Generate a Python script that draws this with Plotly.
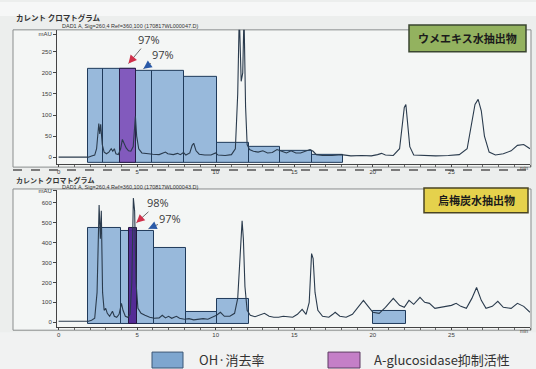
import plotly.graph_objects as go

W, H = 536, 369

# ---------------- data ----------------
# top panel: ウメエキス水抽出物 chromatogram (min, mAU)
top_t = [0, 1.9, 2.1, 2.3, 2.42, 2.5, 2.56, 2.62, 2.68, 2.78, 2.9, 3.05, 3.2, 3.35, 3.45, 3.55, 3.65,
         3.8, 3.95, 4.06, 4.15, 4.3, 4.45, 4.6, 4.75, 4.83, 4.89, 4.97, 5.1, 5.3, 5.6, 6.0, 6.4, 6.65,
         6.8, 6.95, 7.3, 7.57, 7.75, 7.95, 8.1, 8.35, 8.5, 8.6, 8.75, 8.95, 9.3, 9.7, 9.99, 10.15, 10.6,
         11.0, 11.25, 11.4, 11.5, 11.62, 11.72, 11.8, 11.9, 12.0, 12.15, 12.4, 12.7, 13.0, 13.3, 13.6,
         13.9, 14.2, 14.5, 14.8, 15.1, 15.4, 15.7, 16.0, 16.2, 16.4, 16.8, 17.4, 18.0, 18.6, 19.3, 19.9,
         20.3, 20.55, 20.8, 21.3, 21.7, 21.9, 22.0, 22.1, 22.2, 22.35, 22.6, 23.2, 24.0, 24.8, 25.5, 26.0,
         26.3, 26.5, 26.7, 26.9, 27.1, 27.4, 27.8, 28.3, 28.8, 29.2, 29.6, 30.0]
top_mau = [0, 0, 3, 5, 20, 70, 80, 55, 78, 30, 12, 8, 12, 20, 14, 20, 8,
           6, 20, 42, 35, 22, 15, 14, 25, 60, 97, 50, 20, 10, 8, 7, 6, 9,
           12, 8, 6, 9, 6, 11, 5, 10, 28, 33, 15, 7, 5, 5, 10, 5, 4,
           6, 20, 150, 340, 180, 200, 340, 120, 30, 18, 14, 12, 15, 10, 11,
           18, 14, 10, 15, 10, 10, 14, 18, 14, 6, 4, 4, 6, 3, 4, 3,
           6, 9, 5, 4, 20, 80, 118, 125, 90, 25, 5, 4, 3, 4, 6, 20,
           80, 125, 137, 110, 50, 12, 5, 8, 15, 28, 30, 20]

# top panel fractions (OH·消去率)
top_frac_start = [1.9, 2.85, 3.9, 4.9, 5.95, 8.0, 10.1, 12.1, 14.1, 16.1]
top_frac_end = [2.85, 3.9, 4.9, 5.95, 8.0, 10.1, 12.1, 14.1, 16.1, 18.1]
top_oh = [210, 210, 210, 205, 205, 190, 33, 24, 16, 6]
# top panel A-glucosidase fraction
top_ag_start, top_ag_end, top_ag = [3.9], [4.9], [210]

# bottom panel: 烏梅炭水抽出物 chromatogram (min, mAU)
bot_t = [0, 1.9, 2.1, 2.3, 2.45, 2.58, 2.66, 2.72, 2.8, 2.9, 3.0, 3.1, 3.25, 3.43, 3.55, 3.7, 3.85,
         4.0, 4.1, 4.25, 4.4, 4.55, 4.66, 4.76, 4.84, 4.93, 5.05, 5.25, 5.5, 5.8, 6.1, 6.4, 6.6, 6.8,
         7.0, 7.2, 7.5, 7.7, 8.0, 8.3, 8.6, 8.9, 9.2, 9.5, 9.8, 10.05, 10.3, 10.55, 10.9, 11.2, 11.4,
         11.55, 11.68, 11.76, 11.86, 12.0, 12.2, 12.5, 12.8, 13.1, 13.4, 13.7, 14.0, 14.3, 14.6, 14.9,
         15.2, 15.5, 15.75, 15.95, 16.1, 16.2, 16.32, 16.5, 16.8, 17.2, 17.45, 17.6, 17.9, 18.3, 18.7,
         19.0, 19.4, 19.7, 20.0, 20.4, 20.8, 21.3, 21.7, 22.0, 22.3, 22.6, 23.0, 23.3, 23.6, 23.95,
         24.3, 24.7, 25.0, 25.3, 25.6, 25.95, 26.3, 26.6, 26.9, 27.2, 27.6, 27.95, 28.3, 28.8, 29.2,
         29.6, 30.0]
bot_mau = [5, 5, 10, 20, 150, 590, 420, 560, 150, 60, 70, 45, 30, 55, 30, 25, 40,
           95, 60, 30, 25, 40, 200, 625, 560, 200, 70, 45, 35, 25, 20, 22, 35, 22,
           30, 20, 30, 20, 15, 18, 12, 15, 18, 15, 25, 35, 50, 30, 30, 45, 120,
           350, 510, 420, 180, 60, 35, 28, 35, 45, 30, 25, 25, 30, 28, 25,
           40, 65, 40, 100, 345, 320, 150, 60, 30, 25, 40, 50, 30, 25, 40,
           70, 110, 80, 50, 45, 75, 120, 85, 75, 110, 90, 125, 100, 95, 70,
           75, 80, 85, 95, 80, 70, 120, 175, 110, 70, 80, 105, 75, 70, 95,
           80, 50, 50]

bot_frac_start = [1.9, 4.0, 6.05, 8.1, 10.1, 20.0]
bot_frac_end = [4.0, 6.05, 8.1, 10.1, 12.1, 22.1]
bot_oh = [475, 460, 375, 50, 115, 55]
bot_ag_start, bot_ag_end, bot_ag = [4.45], [5.02], [475]

x_ticks = [0, 5, 10, 15, 20, 25]
x_ticktext = ["0", "5", "10", "15", "20", "25"]
top_yticks = [0, 50, 100, 150, 200, 250, 292]
top_yticktext = ["0", "50", "100", "150", "200", "250", "mAU"]
bot_yticks = [0, 100, 200, 300, 400, 500, 600, 660]
bot_yticktext = ["0", "100", "200", "300", "400", "500", "600", "mAU"]

top_title = "ウメエキス水抽出物"
bot_title = "烏梅炭水抽出物"
header_jp = "カレント クロマトグラム"
top_header = "DAD1 A, Sig=260,4 Ref=360,100 (170817WL000047.D)"
bot_header = "DAD1 A, Sig=260,4 Ref=360,100 (170817WL000043.D)"
legend_labels = ["OH·消去率", "A-glucosidase抑制活性"]
top_pct = ["97%", "97%"]
bot_pct = ["98%", "97%"]

# ---------------- styling ----------------
BLUE_FILL = "rgba(112,160,208,0.70)"
BLUE_LINE = "#1f3a5a"
PURPLE_TOP = "rgba(128,80,185,0.90)"
PURPLE_BOT = "rgba(80,35,145,0.95)"
TRACE = "#2a3b4d"
TICKFONT = dict(family="Liberation Sans", size=6, color="#3a3a3a")
JP = "Noto Sans CJK JP"


def px(x):
    return x / W


def py(y):
    return 1 - y / H


def bars(starts, ends, tops, base, fill, line, xa, ya):
    centers = [(s + e) / 2 for s, e in zip(starts, ends)]
    widths = [e - s for s, e in zip(starts, ends)]
    return go.Bar(x=centers, y=[t - base for t in tops], base=base, width=widths,
                  marker=dict(color=fill, line=dict(color=line, width=1)),
                  xaxis=xa, yaxis=ya, showlegend=False, hoverinfo="skip")


fig = go.Figure()
fig.add_trace(bars(top_frac_start, top_frac_end, top_oh, -14, BLUE_FILL, BLUE_LINE, "x", "y"))
fig.add_trace(bars(top_ag_start, top_ag_end, top_ag, -14, PURPLE_TOP, "#2b1d4a", "x", "y"))
fig.add_trace(go.Scatter(x=top_t, y=top_mau, mode="lines", line=dict(color=TRACE, width=1.1),
                         xaxis="x", yaxis="y", showlegend=False, hoverinfo="skip"))
fig.add_trace(bars(bot_frac_start, bot_frac_end, bot_oh, -10, BLUE_FILL, BLUE_LINE, "x2", "y2"))
fig.add_trace(bars(bot_ag_start, bot_ag_end, bot_ag, -10, PURPLE_BOT, "#24163f", "x2", "y2"))
fig.add_trace(go.Scatter(x=bot_t, y=bot_mau, mode="lines", line=dict(color=TRACE, width=1.1),
                         xaxis="x2", yaxis="y2", showlegend=False, hoverinfo="skip"))

xdom = [px(57), px(530)]
xcommon = dict(domain=xdom, range=[-0.1, 30.0], showline=True, linecolor="#444", linewidth=1,
               ticks="outside", ticklen=2, tickcolor="#444", tickvals=x_ticks, ticktext=x_ticktext,
               tickfont=TICKFONT, showgrid=False, zeroline=False, fixedrange=True,
               minor=dict(ticks="outside", ticklen=2, dtick=1, tickcolor="#666"))
ycommon = dict(showline=True, linecolor="#444", linewidth=1, ticks="outside", ticklen=3,
               tickcolor="#444", tickfont=TICKFONT, showgrid=False, zeroline=False, fixedrange=True)

fig.update_layout(
    width=W, height=H, autosize=False,
    margin=dict(l=0, r=0, t=0, b=0),
    paper_bgcolor="#eceeed", plot_bgcolor="rgba(0,0,0,0)",
    barmode="overlay", bargap=0,
    xaxis=dict(anchor="y", **xcommon),
    yaxis=dict(anchor="x", domain=[py(163), py(28)], range=[-16.5, 302],
               tickvals=top_yticks, ticktext=top_yticktext, **ycommon),
    xaxis2=dict(anchor="y2", **xcommon),
    yaxis2=dict(anchor="x2", domain=[py(327), py(189)], range=[-25, 665],
                tickvals=bot_yticks, ticktext=bot_yticktext, **ycommon),
)

shapes = []
# photo background zones
shapes.append(dict(type="rect", xref="paper", yref="paper", x0=0, x1=1, y0=py(0), y1=py(14),
                   fillcolor="#f6f7f7", line=dict(width=0), layer="below"))
shapes.append(dict(type="rect", xref="paper", yref="paper", x0=0, x1=1, y0=py(332), y1=py(369),
                   fillcolor="#f1f2f2", line=dict(width=0), layer="below"))
# panel frames
for y0, y1 in [(28, 166), (188, 330)]:
    shapes.append(dict(type="rect", xref="paper", yref="paper", x0=px(13), x1=px(531),
                       y0=py(y1), y1=py(y0), fillcolor="#f4f6f5",
                       line=dict(color="#8a8d8d", width=1), layer="below"))
# footer strip of top panel
shapes.append(dict(type="line", xref="paper", yref="paper", x0=px(13), x1=px(531),
                   y0=py(169), y1=py(169), line=dict(color="#555", width=1.5, dash="dash"),
                   layer="below"))
# title boxes
shapes.append(dict(type="rect", xref="paper", yref="paper", x0=px(409), x1=px(526),
                   y0=py(50), y1=py(23), fillcolor="#93b25f", line=dict(color="#3a4630", width=1.5)))
shapes.append(dict(type="rect", xref="paper", yref="paper", x0=px(424), x1=px(528),
                   y0=py(212), y1=py(187), fillcolor="#e5d14c", line=dict(color="#4a4422", width=1.5)))
# legend swatches
shapes.append(dict(type="rect", xref="paper", yref="paper", x0=px(152), x1=px(183),
                   y0=py(368), y1=py(352), fillcolor="#7ea6cf", line=dict(color="#3b5676", width=1)))
shapes.append(dict(type="rect", xref="paper", yref="paper", x0=px(328), x1=px(360),
                   y0=py(368), y1=py(352), fillcolor="#c47fc7", line=dict(color="#5d3a62", width=1)))
fig.update_layout(shapes=shapes)

ann = []


def text(x, y, s, size, color="#222", family=JP, xanchor="left", bold=False):
    ann.append(dict(xref="paper", yref="paper", x=px(x), y=py(y), text=f"<b>{s}</b>" if bold else s,
                    showarrow=False, xanchor=xanchor, yanchor="middle",
                    font=dict(family=family, size=size, color=color)))


text(14, 16, header_jp, 7.5, "#333", bold=True)
text(60, 24.5, top_header, 5.5, "#333", "Liberation Sans")
text(14, 179, header_jp, 7, "#333", bold=True)
text(60, 186.5, bot_header, 5.5, "#333", "Liberation Sans")
text(467.5, 36.5, top_title, 11, "#1b1b1b", xanchor="center", bold=True)
text(476, 199.5, bot_title, 11, "#1b1b1b", xanchor="center", bold=True)
text(197, 359, legend_labels[0], 13, "#333")
text(372, 359, legend_labels[1], 13, "#333")
text(524, 166.5, "min", 5, "#444", "Liberation Sans", xanchor="center")
text(524, 330.5, "min", 5, "#444", "Liberation Sans", xanchor="center")


def pointer(xa, ya, hx, hy, ax, ay, label, head_color):
    # label with a grey leader line
    ann.append(dict(xref=xa, yref=ya, x=hx, y=hy, ax=ax, ay=ay, text=label, showarrow=True,
                    arrowhead=0, arrowwidth=1, arrowcolor="#6d6d6d", standoff=0,
                    font=dict(family="Open Sans", size=11, color="#3a3a3a")))
    # coloured arrow head
    ann.append(dict(xref=xa, yref=ya, x=hx, y=hy, ax=ax * 0.3, ay=ay * 0.3, text="", showarrow=True,
                    arrowhead=2, arrowsize=1.1, arrowwidth=1.5, arrowcolor=head_color, standoff=0))


pointer("x", "y", 4.45, 222, 20, -24, top_pct[0], "#d0304a")
pointer("x", "y", 5.4, 210, 20, -14, top_pct[1], "#2a5aa8")
pointer("x2", "y2", 4.95, 500, 22, -20, bot_pct[0], "#d0304a")
pointer("x2", "y2", 5.72, 470, 22, -10, bot_pct[1], "#2a5aa8")

fig.update_layout(annotations=ann)
fig.write_html(
    "out.html",
    config={"displayModeBar": False},
    post_script="document.body.style.margin='0';document.body.style.overflow='hidden';",
)
